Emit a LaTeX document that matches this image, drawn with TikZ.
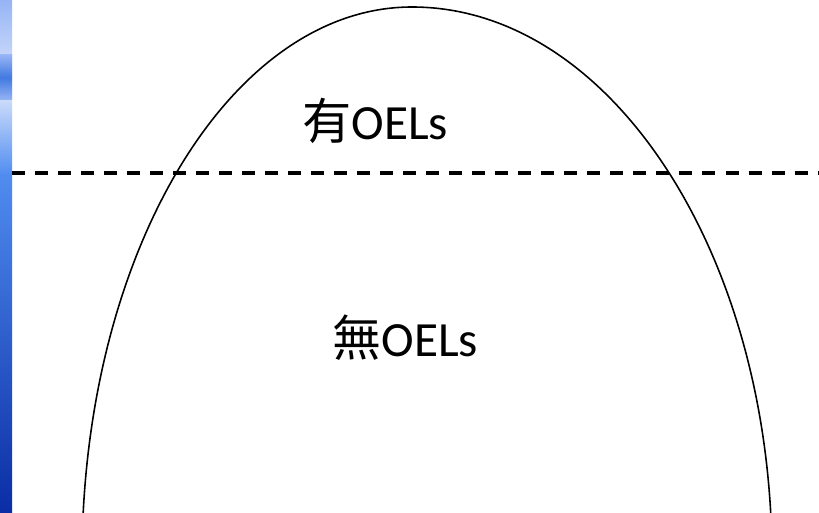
\documentclass[tikz,border=0pt]{standalone}
\usepackage{fontspec}
\setmainfont{Carlito}
\newfontfamily\cjk{Noto Sans CJK TC}
\usetikzlibrary{positioning}
\definecolor{slidelight}{RGB}{150,180,245}
\definecolor{slidemid}{RGB}{80,140,240}
\definecolor{slidedark}{RGB}{10,45,165}

\begin{document}
\begin{tikzpicture}[x=0.02cm,y=-0.02cm,
                label/.style={inner sep=0pt,anchor=base west,
                              font=\fontsize{28}{32}\selectfont},
                border/.style={line width=2pt,dash pattern=on 7.4pt off 5.7pt},
                hull/.style={black,line width=0.9pt}]
                \useasboundingbox (0,0) rectangle (819,513);
                % slide strip on the left
                \shade[top color=slidelight,bottom color=slidemid,middle color=white!70!slidelight]
                      (0,0) rectangle (12,175);
                \shade[top color=slidemid,bottom color=slidedark]
                      (0,175) rectangle (12,513);
                \shade[top color=slidelight,bottom color=slidelight,middle color=slidemid!80!slidedark]
                      (0,55) rectangle (12,100);
                % the curve
                \begin{scope}
                \clip (12,0) rectangle (819,513);
                \coordinate (footL) at (82,560);
                \draw[hull] (footL) arc[start angle=180,end angle=270,x radius=330,y radius=553]
                                    arc[start angle=-90,end angle=0,x radius=360,y radius=553];
                \end{scope}
                % dividing line
                \coordinate (lineL) at (12,173);
                \coordinate (lineR) at (819,173);
                \draw[border] (lineL)--(lineR);
                % texts
                \node[label] (top)    at (302,140) {{\cjk 有}OELs};
                \node[label] (bottom) at (332,357) {{\cjk 無}OELs};
\end{tikzpicture}
\end{document}
